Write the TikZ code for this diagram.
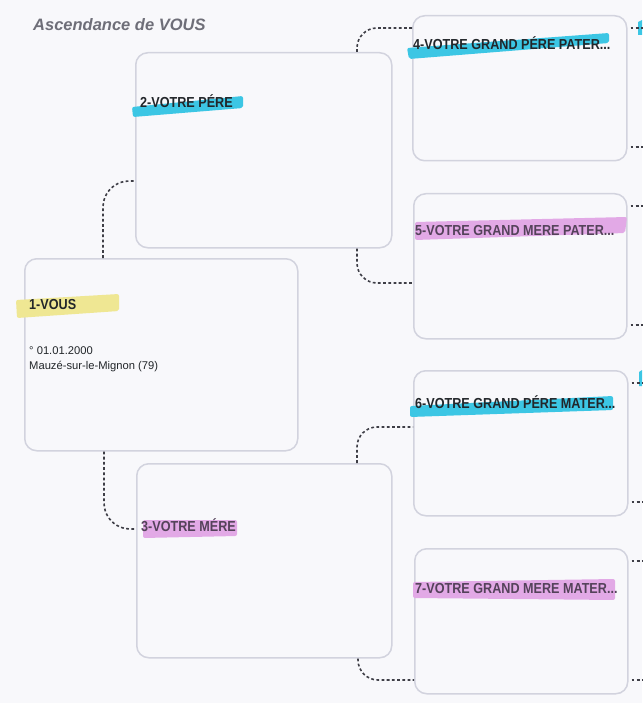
\documentclass[tikz,border=0pt]{standalone}
\usepackage{fontspec}
\setmainfont{Liberation Sans}
\newfontfamily\lblfont{Liberation Sans}[FakeStretch=0.87]
\usetikzlibrary{positioning,calc}
\definecolor{paper}{HTML}{F8F8FB}
\definecolor{boxline}{HTML}{D2D3DE}
\definecolor{linkgray}{HTML}{3E3E46}
\definecolor{hlcyan}{HTML}{3CC6E4}
\definecolor{hlpink}{HTML}{E2A9E6}
\definecolor{hlyellow}{HTML}{EFE793}
\definecolor{titlegray}{HTML}{6E6E78}
\definecolor{inkdark}{HTML}{22262A}
\definecolor{inkpurple}{HTML}{54425A}

\begin{document}
\begin{tikzpicture}[x=1pt,y=-1pt,
  box/.style={draw=boxline,line width=1.5pt,rounded corners=12pt,anchor=north west,inner sep=0pt},
  link/.style={draw=linkgray,line width=1.6pt,dash pattern=on 2.8pt off 2.4pt},
  lbl/.style={anchor=base west,inner sep=0pt,font=\lblfont\bfseries\fontsize{14.5}{16}\selectfont},
  txt/.style={anchor=base west,inner sep=0pt,text=inkdark,font=\fontsize{11.2}{13}\selectfont}]
\fill[paper] (0,0) rectangle (642,703);
\useasboundingbox (0,0) rectangle (642,703);

\node[anchor=base west,inner sep=0pt,text=titlegray,font=\bfseries\itshape\fontsize{16.5}{18}\selectfont] (title) at (33,31) {Ascendance de VOUS};

% boxes
\node[box,minimum width=273pt,minimum height=192pt] (b1) at (24,258) {};
\node[box,minimum width=256pt,minimum height=195pt] (b2) at (135,52) {};
\node[box,minimum width=255pt,minimum height=194pt] (b3) at (136,463) {};
\node[box,minimum width=214pt,minimum height=145pt] (b4) at (412,15) {};
\node[box,minimum width=213pt,minimum height=145pt] (b5) at (413,193) {};
\node[box,minimum width=214pt,minimum height=145pt] (b6) at (413,370) {};
\node[box,minimum width=213pt,minimum height=145pt] (b7) at (414,548) {};

% highlighter strokes
\fill[hlyellow,rounded corners=2pt] (16,300)--(119,294)--(119,311)--(17,318)--cycle;
\fill[hlcyan,rounded corners=2pt] (132,107)--(243,96)--(243,108)--(133,117)--cycle;
\fill[hlpink,rounded corners=2pt] (143,520)--(237,520)--(237,536)--(143,538)--cycle;
\fill[hlcyan,rounded corners=2pt] (407,48)--(609,33)--(609,43)--(409,59)--cycle;
\fill[hlpink,rounded corners=2pt] (415,222)--(627,217)--(625,233)--(415,240)--cycle;
\fill[hlcyan,rounded corners=2pt] (410,406)--(613,396)--(613,410)--(410,417)--cycle;
\fill[hlpink,rounded corners=2pt] (413,582)--(615,579)--(615,600)--(413,598)--cycle;
\fill[hlcyan] (638,22)--(642,20)--(642,35)--(638,35)--cycle;
\fill[hlcyan] (639,372)--(642,370)--(642,386)--(639,386)--cycle;

\node[lbl,text=inkdark] (n1) at (29,309) {1-VOUS};
\node[txt] (birth) at (29,354) {° 01.01.2000};
\node[txt] (place) at (29,369) {Mauzé-sur-le-Mignon (79)};
\node[lbl,text=inkdark] (n2) at (140,108) {2-VOTRE PÉRE};
\node[lbl,text=inkpurple] (n3) at (141,531) {3-VOTRE MÉRE};
\node[lbl,text=inkdark] (n4) at (413,50) {4-VOTRE GRAND PÉRE PATER...};
\node[lbl,text=inkpurple] (n5) at (415,235) {5-VOTRE GRAND MERE PATER...};
\node[lbl,text=inkdark] (n6) at (415,408) {6-VOTRE GRAND PÉRE MATER...};
\node[lbl,text=inkpurple] (n7) at (415,593) {7-VOTRE GRAND MERE MATER...};

% links
\draw[link,rounded corners=26pt] ([xshift=79pt]b1.north west) |- ([yshift=-129pt]b2.north west);
\draw[link,rounded corners=26pt] ([xshift=80pt]b1.south west) |- ([yshift=-66pt]b3.north west);
\draw[link,rounded corners=20pt] ([xshift=222pt]b2.north west) |- ([yshift=-13pt]b4.north west);
\draw[link,rounded corners=20pt] ([xshift=222pt]b2.south west) |- ([yshift=-90pt]b5.north west);
\draw[link,rounded corners=20pt] ([xshift=221pt]b3.north west) |- ([yshift=-57pt]b6.north west);
\draw[link,rounded corners=20pt] ([xshift=222pt]b3.south west) |- ([yshift=-132pt]b7.north west);
\foreach \b in {b4,b5,b6,b7}{
  \draw[link] ([xshift=3pt,yshift=-13pt]\b.north east) -- ++(14,0);
  \draw[link] ([xshift=3pt,yshift=-132pt]\b.north east) -- ++(14,0);
}
\end{tikzpicture}
\end{document}
